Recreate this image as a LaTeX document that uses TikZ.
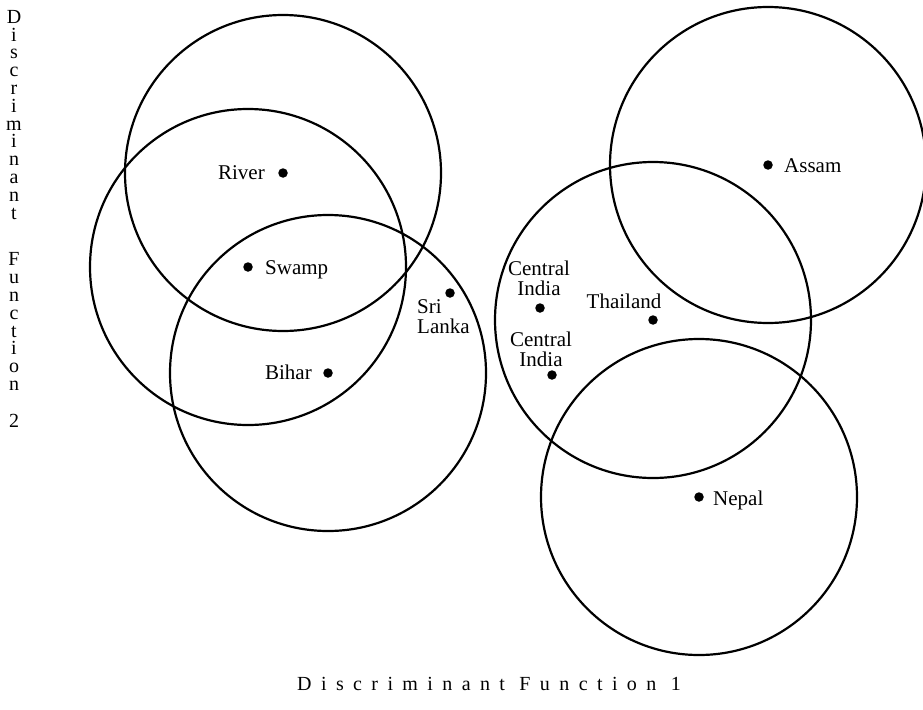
\documentclass[tikz,border=0pt]{standalone}
\usepackage{fontspec}
\setmainfont{Liberation Serif}
\begin{document}
\begin{tikzpicture}[x=1pt,y=-1pt,
  ring/.style={draw,line width=2.2pt},
  dot/.style={circle,fill,inner sep=0pt,minimum size=9.5pt},
  lbl/.style={font=\fontsize{21}{20}\selectfont,inner sep=0pt},
  axis/.style={inner sep=0pt},
]
\useasboundingbox (0,0) rectangle (923,709);

% group means
\node[dot] (river)    at (283,173) {};
\node[dot] (swamp)    at (248,267) {};
\node[dot] (bihar)    at (328,373) {};
\node[dot] (srilanka) at (450,293) {};
\node[dot] (cindiaA)  at (540,308) {};
\node[dot] (cindiaB)  at (552,375) {};
\node[dot] (thailand) at (653,320) {};
\node[dot] (assam)    at (768,165) {};
\node[dot] (nepal)    at (699,497) {};

% confidence circles
\foreach \g in {river,swamp,bihar,thailand,assam,nepal}
  \draw[ring] (\g.center) circle[radius=158];

% group labels (multi-line labels are placed by their last baseline)
\node[lbl,anchor=base east] (lriver) at (265,179) {River};
\node[lbl,anchor=base west] (lswamp) at (265,274) {Swamp};
\node[lbl,anchor=base east] (lbihar) at (312,379) {Bihar};
\node[lbl,anchor=base west,align=left] (lsri) at (417,333) {Sri\\Lanka};
\node[lbl,anchor=base,align=center] (lcinA) at (539,295) {Central\\India};
\node[lbl,anchor=base,align=center] (lcinB) at (541,366) {Central\\India};
\node[lbl,anchor=base] (lthai) at (624,308) {Thailand};
\node[lbl,anchor=base west] (lassam) at (784,172) {Assam};
\node[lbl,anchor=base west] (lnepal) at (713,505) {Nepal};

% axis titles
\node[axis,anchor=base,font=\fontsize{20}{18}\selectfont] (xtitle) at (489,690)
  {\addfontfeature{LetterSpace=47}Discriminant Function 1};
\node[axis,anchor=north,align=center,font=\fontsize{20}{17.8}\selectfont] (ytitle) at (14,10)
  {D\\i\\s\\c\\r\\i\\m\\i\\n\\a\\n\\t\\[29pt]F\\u\\n\\c\\t\\i\\o\\n\\[19pt]2};
\end{tikzpicture}
\end{document}
